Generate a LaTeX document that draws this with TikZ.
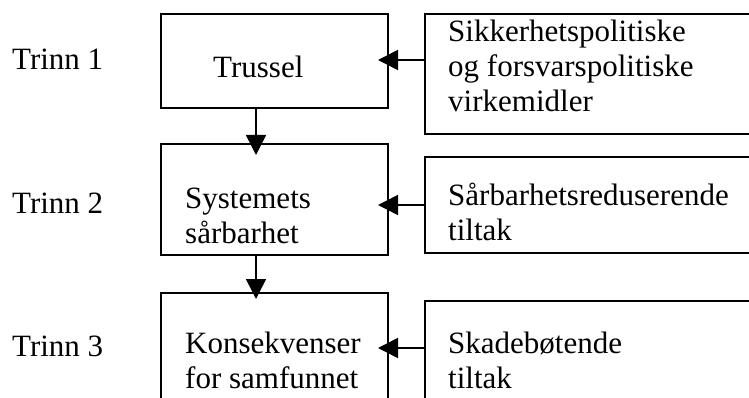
\documentclass[tikz,border=0pt]{standalone}
\usepackage{fontspec}
\setmainfont{Liberation Serif}
\usetikzlibrary{arrows.meta}
\begin{document}
\begin{tikzpicture}[x=1pt,y=-1pt,
  box/.style={draw=black,line width=1.6pt,anchor=north west,inner sep=0pt},
  txt/.style={anchor=base west,inner sep=0pt,font=\fontsize{31}{35}\selectfont},
  arr/.style={line width=1.5pt,-{Triangle[length=20pt,width=20pt]}}]
\useasboundingbox (0,0) rectangle (749,398);
% left boxes
\node[box,minimum width=227pt,minimum height=94pt] (l1) at (160,13) {};
\node[box,minimum width=227pt,minimum height=111pt] (l2) at (160,143) {};
\node[box,minimum width=227pt,minimum height=130pt] (l3) at (160,292) {};
% right boxes
\node[box,minimum width=340pt,minimum height=120pt] (r1) at (424,13) {};
\node[box,minimum width=340pt,minimum height=96pt] (r2) at (424,156) {};
\node[box,minimum width=340pt,minimum height=130pt] (r3) at (424,300) {};
% labels
\node[txt] (s1) at (12,70) {Trinn 1};
\node[txt] (s2) at (12,214) {Trinn 2};
\node[txt] (s3) at (12,356) {Trinn 3};
% left texts
\node[txt] (a1) at (213,78) {Trussel};
\node[txt] (b1) at (185,208) {Systemets};
\node[txt] (b2) at (185,243) {sårbarhet};
\node[txt] (c1) at (185,353) {Konsekvenser};
\node[txt] (c2) at (185,388) {for samfunnet};
% right texts
\node[txt] (d1) at (448,42) {Sikkerhetspolitiske};
\node[txt] (d2) at (448,77) {og forsvarspolitiske};
\node[txt] (d3) at (448,112) {virkemidler};
\node[txt] (e1) at (448,205) {Sårbarhetsreduserende};
\node[txt] (e2) at (448,240) {tiltak};
\node[txt] (f1) at (448,353) {Skadebøtende};
\node[txt] (f2) at (448,388) {tiltak};
% tip coordinates
\coordinate (h1) at (378,60);
\coordinate (h2) at (378,205);
\coordinate (h3) at (378,348);
\coordinate (v1) at (256,155);
\coordinate (v2) at (256,299);
% arrows
\draw[arr] (r1.west |- h1) -- (h1);
\draw[arr] (r2.west |- h2) -- (h2);
\draw[arr] (r3.west |- h3) -- (h3);
\draw[arr] (l1.south -| v1) -- (v1);
\draw[arr] (l2.south -| v2) -- (v2);
\end{tikzpicture}
\end{document}
